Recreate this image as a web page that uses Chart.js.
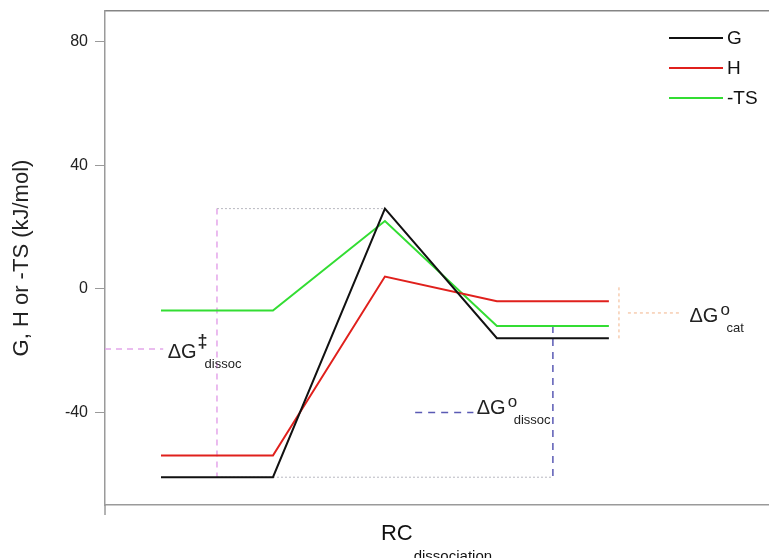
<!DOCTYPE html>
<html>
<head>
<meta charset="utf-8">
<script src="https://cdn.jsdelivr.net/npm/chart.js@4.4.1/dist/chart.umd.min.js"></script>
<style>
  html, body { margin: 0; padding: 0; background: #fff; }
  #wrap { width: 769px; height: 558px; }
</style>
</head>
<body>
<div id="wrap"><canvas id="energyChart"></canvas></div>
<script>
// reaction coordinate steps and energy profiles (kJ/mol)
const steps = [0, 1, 2, 3, 4];
const gValues = [-61, -61, 26, -16, -16];
const hValues = [-54, -54, 4, -4, -4];
const tsValues = [-7, -7, 22, -12, -12];
const yTicks = [-40, 0, 40, 80];

// guide segments: [x1, x2], [y1, y2]
const barrierGuides = [
  { xs: [0.5, 2], ys: [26, 26], kind: 'grey' },
  { xs: [0.5, 3.5], ys: [-61, -61], kind: 'grey' },
  { xs: [0.5, 0.5], ys: [26, -61], kind: 'pink' },
  { xs: [-0.5, 0.02], ys: [-19.5, -19.5], kind: 'pink' },
  { xs: [3.5, 3.5], ys: [-12, -61], kind: 'blue' },
  { xs: [2.27, 2.79], ys: [-40, -40], kind: 'blue' },
  { xs: [4.09, 4.09], ys: [0.5, -16.5], kind: 'orange' },
  { xs: [4.17, 4.65], ys: [-7.8, -7.8], kind: 'orange' }
];

// ΔG annotations anchored at the baseline of "ΔG"
const deltaLabels = [
  { sup: '\u2021', sub: 'dissoc', x: 0.06, y: -22.4 },
  { sup: 'o', sub: 'dissoc', x: 2.82, y: -40.5 },
  { sup: 'o', sub: 'cat', x: 4.72, y: -10.7 }
];

const guideStyles = {
  grey:   { color: '#b8b8c0', dash: [2, 2], width: 1 },
  pink:   { color: '#e4a6ea', dash: [6, 5], width: 1.5 },
  blue:   { color: '#5a5ab4', dash: [7, 6], width: 1.5 },
  orange: { color: '#f2b48a', dash: [3, 3], width: 1 }
};

const FONT = 'Arial, "Liberation Sans", sans-serif';

function profile(label, values, color) {
  return {
    label: label,
    data: steps.map((s, i) => ({ x: s, y: values[i] })),
    borderColor: color,
    borderWidth: 2,
    pointRadius: 0,
    tension: 0,
    order: 0
  };
}

const datasets = [
  profile('G', gValues, '#111111'),
  profile('H', hValues, '#e0201c'),
  profile('-TS', tsValues, '#33dd33')
];

barrierGuides.forEach(g => {
  const st = guideStyles[g.kind];
  datasets.push({
    label: '',
    guide: true,
    data: [{ x: g.xs[0], y: g.ys[0] }, { x: g.xs[1], y: g.ys[1] }],
    borderColor: st.color,
    borderDash: st.dash,
    borderWidth: st.width,
    pointRadius: 0,
    order: 10
  });
});

// legend, ΔG labels and the x-axis title with subscript
const extrasPlugin = {
  id: 'extras',
  afterDraw(chart) {
    const ctx = chart.ctx;
    const xs = chart.scales.x, ys = chart.scales.y;
    const area = chart.chartArea;
    ctx.save();

    // short stub of the y axis below the x axis
    ctx.strokeStyle = '#9a9a9a';
    ctx.lineWidth = 1.5;
    ctx.beginPath();
    ctx.moveTo(area.left, area.bottom);
    ctx.lineTo(area.left, area.bottom + 10);
    ctx.stroke();

    // legend
    chart.data.datasets.filter(d => !d.guide).forEach((d, i) => {
      const y = 38 + i * 30;
      ctx.strokeStyle = d.borderColor;
      ctx.lineWidth = 2;
      ctx.beginPath();
      ctx.moveTo(669, y);
      ctx.lineTo(723, y);
      ctx.stroke();
      ctx.fillStyle = '#111';
      ctx.font = '19px ' + FONT;
      ctx.textAlign = 'left';
      ctx.textBaseline = 'middle';
      ctx.fillText(d.label, 727, y + 1);
    });

    // ΔG labels
    ctx.textBaseline = 'alphabetic';
    ctx.fillStyle = '#222';
    deltaLabels.forEach(l => {
      const px = xs.getPixelForValue(l.x);
      const py = ys.getPixelForValue(l.y);
      ctx.font = '20px ' + FONT;
      ctx.fillText('\u0394G', px, py);
      const w = ctx.measureText('\u0394G').width;
      if (l.sup === 'o') {
        ctx.font = '17px ' + FONT;
        ctx.fillText('o', px + w + 2, py - 7);
      } else {
        ctx.font = 'bold 18px ' + FONT;
        ctx.fillText(l.sup, px + w + 1, py - 11);
      }
      ctx.font = '13px ' + FONT;
      ctx.fillText(l.sub, px + w + 8, py + 10);
    });

    // x-axis title
    ctx.font = '22px ' + FONT;
    const wMain = ctx.measureText('RC').width;
    ctx.font = '15px ' + FONT;
    const wSub = ctx.measureText('dissociation').width;
    const x0 = (area.left + area.right) / 2 - (wMain + wSub) / 2 - 1;
    ctx.fillStyle = '#111';
    ctx.font = '22px ' + FONT;
    ctx.fillText('RC', x0, 540);
    ctx.font = '15px ' + FONT;
    ctx.fillText('dissociation', x0 + wMain + 1, 561);

    ctx.restore();
  }
};

new Chart(document.getElementById('energyChart'), {
  type: 'line',
  data: { datasets: datasets },
  options: {
    responsive: true,
    maintainAspectRatio: false,
    animation: false,
    layout: { padding: { top: 11, right: 0, left: 0, bottom: 0 } },
    plugins: {
      legend: { display: false },
      tooltip: { enabled: false }
    },
    scales: {
      x: {
        type: 'linear',
        min: -0.5,
        max: 5.43,
        ticks: { display: false },
        grid: { display: false },
        border: { display: true, color: '#9a9a9a', width: 1.5 },
        afterFit: s => { s.height = 53; }
      },
      xTop: {
        type: 'linear',
        position: 'top',
        min: -0.5,
        max: 5.43,
        ticks: { display: false },
        grid: { display: false },
        border: { display: true, color: '#858585', width: 1.5 },
        afterFit: s => { s.height = 0; }
      },
      y: {
        min: -70,
        max: 90,
        afterBuildTicks: s => { s.ticks = yTicks.map(v => ({ value: v })); },
        ticks: {
          color: '#222',
          font: { family: FONT, size: 16 },
          padding: 7
        },
        grid: {
          drawOnChartArea: false,
          drawTicks: true,
          tickLength: 10,
          color: '#9a9a9a'
        },
        border: { display: true, color: '#9a9a9a', width: 1.5 },
        title: {
          display: true,
          text: 'G, H or -TS (kJ/mol)',
          color: '#222',
          font: { family: FONT, size: 22 },
          padding: { top: 9, bottom: 0 }
        },
        afterFit: s => {
          s.width = 105;
          s.paddingTop = 0;
          s.paddingBottom = 0;
        }
      }
    }
  },
  plugins: [extrasPlugin]
});
</script>
</body>
</html>
